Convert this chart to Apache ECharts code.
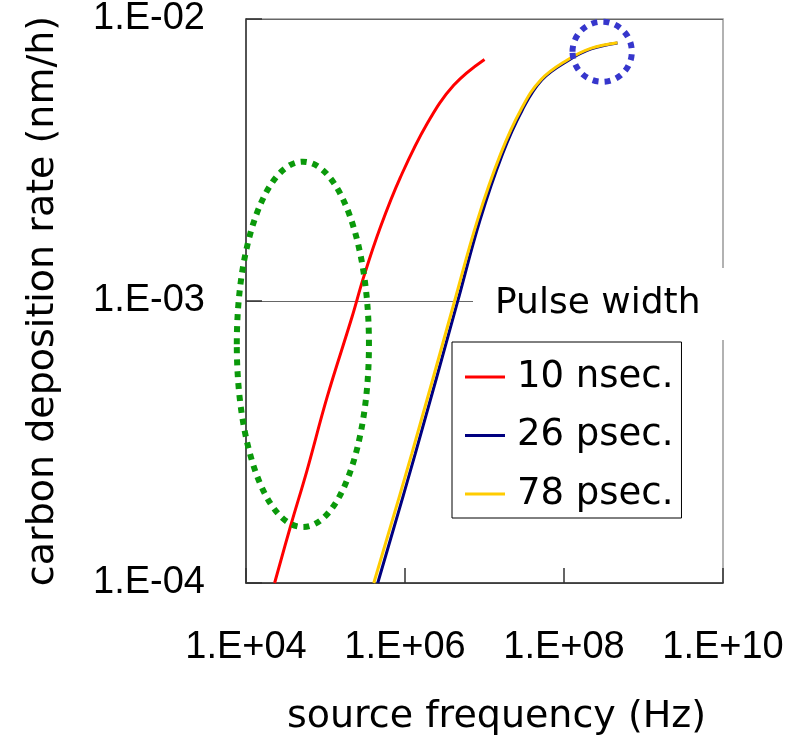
<!DOCTYPE html>
<html><head><meta charset="utf-8">
<script src="https://cdn.jsdelivr.net/npm/echarts@6/dist/echarts.min.js"></script>
<style>html,body{margin:0;padding:0;background:#fff}#c{width:790px;height:744px}</style>
</head><body><div id="c"></div>
<script>
// ---- data ----
const seriesNames = ['10 nsec.', '26 psec.', '78 psec.'];
const freq10ns = [2.29e4, 3.61e4, 5.86e4, 1.05e5, 2.16e5, 3.03e5, 4.91e5, 8.77e5, 1.91e6, 4.12e6, 1.0e7];
const rate10ns = [1.0e-4, 1.58e-4, 2.51e-4, 4.57e-4, 8.79e-4, 1.22e-3, 1.83e-3, 2.75e-3, 4.27e-3, 5.83e-3, 7.19e-3];
const freq26ps = [4.54e5, 1.35e6, 4.52e6, 8.8e6, 1.69e7, 2.98e7, 5.25e7, 1.13e8, 2.20e8, 4.71e8];
const rate26ps = [1.0e-4, 2.88e-4, 9.8e-4, 1.94e-3, 3.33e-3, 4.75e-3, 6.08e-3, 7.13e-3, 7.83e-3, 8.22e-3];
const freq78ps = [4.05e5, 1.22e6, 4.12e6, 8.18e6, 1.60e7, 2.85e7, 5.09e7, 1.10e8, 2.17e8, 4.71e8];
const rate78ps = [1.0e-4, 2.88e-4, 9.8e-4, 1.94e-3, 3.33e-3, 4.75e-3, 6.08e-3, 7.16e-3, 7.87e-3, 8.24e-3];
const xTickValues = [1e4, 1e6, 1e8, 1e10];
const xTickLabels = ['1.E+04', '1.E+06', '1.E+08', '1.E+10'];
const yTickValues = [1e-4, 1e-3, 1e-2];
const yTickLabels = ['1.E-04', '1.E-03', '1.E-02'];
const legendTitle = 'Pulse width';
const xAxisName = 'source frequency (Hz)';
const yAxisName = 'carbon deposition rate (nm/h)';
// highlighted regions (data coordinates: x range, y range)
const greenRegionX = [7.66e3, 3.52e5];
const greenRegionY = [1.58e-4, 3.12e-3];
const blueRegionX = [1.28e8, 7.13e8];
const blueRegionY = [5.99e-3, 9.78e-3];

// ---- styles ----
const seriesColors = ['#ff0000', '#000080', '#ffcc00'];
const zip = (xs, ys) => xs.map((x, i) => [x, ys[i]]);
const seriesData = [zip(freq10ns, rate10ns), zip(freq26ps, rate26ps), zip(freq78ps, rate78ps)];
const labelFor = (vals, labels) => v => {
  const e = Math.round(Math.log10(v));
  const i = vals.findIndex(t => Math.round(Math.log10(t)) === e);
  return i >= 0 ? labels[i] : '';
};

const chart = echarts.init(document.getElementById('c'), null, {renderer: 'canvas'});
const option = {
  animation: false,
  backgroundColor: '#fff',
  grid: {left: 246, right: 67, top: 19, bottom: 161, show: true, borderColor: '#999', borderWidth: 1.5, outerBoundsMode: 'none'},
  title: {
    text: legendTitle, left: 473, top: 268, padding: [14, 25, 14, 22], backgroundColor: '#fff',
    textStyle: {fontFamily: 'DejaVu Sans', fontSize: 36, fontWeight: 'normal', color: '#000', lineHeight: 44}
  },
  legend: {
    data: seriesNames, orient: 'vertical', left: 452, top: 342,
    backgroundColor: '#fff', borderColor: '#000', borderWidth: 1,
    padding: [15, 8, 4, 13], itemGap: 18.5, itemWidth: 40, itemHeight: 3, icon: 'rect',
    selectedMode: false,
    textStyle: {fontFamily: 'DejaVu Sans', fontSize: 37, color: '#000', lineHeight: 40, padding: [0, 0, 0, 7]}
  },
  xAxis: {
    type: 'log', logBase: 100, min: 1e4, max: 1e10, splitNumber: 5,
    axisLine: {lineStyle: {color: '#333', width: 1.5}},
    axisTick: {inside: true, length: 15, lineStyle: {color: '#333', width: 1.5}},
    axisLabel: {margin: 46, fontFamily: 'Liberation Sans', fontSize: 38, color: '#000', formatter: labelFor(xTickValues, xTickLabels)},
    splitLine: {show: false},
    name: xAxisName, nameLocation: 'middle', nameGap: 115,
    nameTextStyle: {fontFamily: 'DejaVu Sans', fontSize: 38, color: '#000', padding: [0, 0, 0, 24]}
  },
  yAxis: {
    type: 'log', logBase: 10, min: 1e-4, max: 1e-2, splitNumber: 5,
    axisLine: {lineStyle: {color: '#333', width: 1.5}},
    axisTick: {inside: true, length: 16, lineStyle: {color: '#333', width: 1.5}},
    axisLabel: {margin: 41, fontFamily: 'Liberation Sans', fontSize: 38, color: '#000', formatter: labelFor(yTickValues, yTickLabels)},
    splitLine: {show: true, lineStyle: {color: '#666', width: 1}},
    name: yAxisName, nameLocation: 'middle', nameGap: 184, nameRotate: 90,
    nameTextStyle: {fontFamily: 'DejaVu Sans', fontSize: 38, color: '#000'}
  },
  series: seriesNames.map((n, i) => ({
    name: n, type: 'line', data: seriesData[i], showSymbol: false, symbol: 'none',
    smooth: 0.4, lineStyle: {width: 3, color: seriesColors[i]}, itemStyle: {color: seriesColors[i]}
  }))
};
chart.setOption(option);

function region(xr, yr, color) {
  const p1 = chart.convertToPixel({gridIndex: 0}, [xr[0], yr[1]]);
  const p2 = chart.convertToPixel({gridIndex: 0}, [xr[1], yr[0]]);
  return {
    type: 'ellipse', silent: true, z: 100,
    shape: {cx: (p1[0] + p2[0]) / 2, cy: (p1[1] + p2[1]) / 2, rx: Math.abs(p2[0] - p1[0]) / 2, ry: Math.abs(p2[1] - p1[1]) / 2},
    style: {fill: 'none', stroke: color, lineWidth: 6, lineDash: [6, 6]}
  };
}
chart.setOption({graphic: [
  region(greenRegionX, greenRegionY, '#0a990a'),
  region(blueRegionX, blueRegionY, '#3636cc')
]});
</script>
</body></html>
